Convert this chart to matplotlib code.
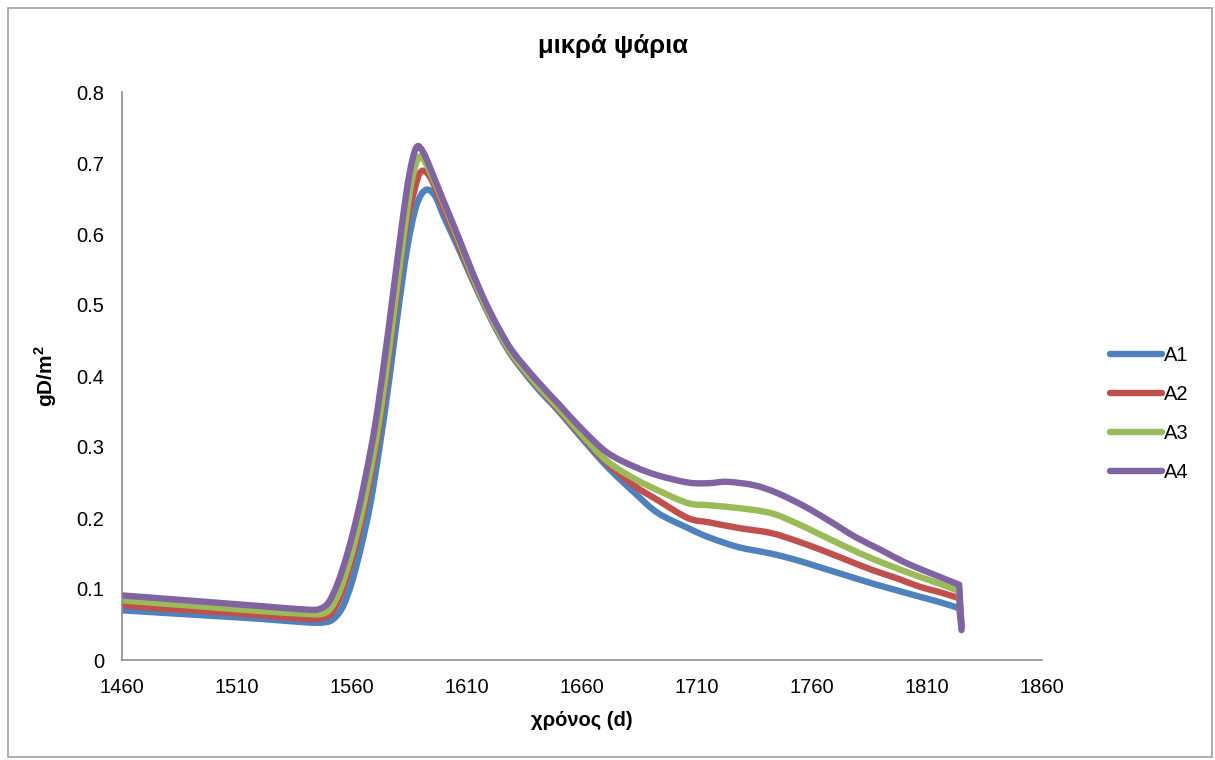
import matplotlib
matplotlib.use("Agg")
import numpy as np
import matplotlib.pyplot as plt
from matplotlib.patches import Rectangle, PathPatch
from matplotlib.path import Path
from matplotlib.lines import Line2D

# days / values (gD/m2)
days_a1 = [1460, 1480, 1500, 1520, 1540, 1548, 1552, 1556, 1560, 1564, 1568, 1572,
           1576, 1580, 1584, 1588, 1592, 1596, 1600, 1606, 1612, 1618, 1624, 1630,
           1640, 1650, 1660, 1671, 1683, 1693, 1706, 1715, 1728, 1742, 1753, 1764,
           1775, 1786, 1797, 1807, 1815, 1824, 1825]
a1 = [0.070, 0.066, 0.062, 0.058, 0.053, 0.053, 0.058, 0.075, 0.110, 0.160, 0.220, 0.300,
      0.390, 0.490, 0.580, 0.640, 0.662, 0.654, 0.624, 0.582, 0.538, 0.496, 0.458, 0.426,
      0.385, 0.350, 0.312, 0.272, 0.235, 0.207, 0.186, 0.173, 0.159, 0.150, 0.141, 0.130,
      0.119, 0.108, 0.098, 0.089, 0.082, 0.073, 0.045]

days_a2 = [1460, 1480, 1500, 1520, 1540, 1547, 1551, 1555, 1559, 1563, 1567, 1571,
           1575, 1579, 1583, 1587, 1590, 1594, 1599, 1606, 1612, 1618, 1624, 1630,
           1640, 1650, 1660, 1671, 1683, 1693, 1706, 1715, 1728, 1742, 1753, 1764,
           1775, 1786, 1797, 1807, 1815, 1824, 1825]
a2 = [0.077, 0.072, 0.068, 0.063, 0.058, 0.059, 0.066, 0.090, 0.130, 0.180, 0.240, 0.310,
      0.400, 0.500, 0.600, 0.660, 0.688, 0.680, 0.642, 0.588, 0.541, 0.498, 0.460, 0.428,
      0.388, 0.352, 0.315, 0.277, 0.245, 0.225, 0.200, 0.194, 0.186, 0.179, 0.168, 0.155,
      0.141, 0.127, 0.115, 0.103, 0.096, 0.087, 0.048]

days_a3 = [1460, 1480, 1500, 1520, 1540, 1547, 1551, 1555, 1559, 1563, 1567, 1571,
           1575, 1579, 1583, 1586, 1589, 1592, 1597, 1606, 1612, 1618, 1624, 1630,
           1640, 1650, 1660, 1671, 1683, 1693, 1706, 1715, 1728, 1742, 1753, 1764,
           1775, 1786, 1797, 1807, 1815, 1824, 1825]
a3 = [0.084, 0.079, 0.074, 0.069, 0.065, 0.065, 0.074, 0.100, 0.140, 0.190, 0.250, 0.320,
      0.410, 0.510, 0.610, 0.675, 0.708, 0.700, 0.665, 0.594, 0.544, 0.499, 0.461, 0.429,
      0.389, 0.354, 0.317, 0.280, 0.255, 0.239, 0.221, 0.218, 0.214, 0.207, 0.193, 0.176,
      0.159, 0.143, 0.129, 0.117, 0.108, 0.097, 0.052]

days_a4 = [1460, 1480, 1500, 1520, 1540, 1546, 1550, 1554, 1558, 1562, 1566, 1570,
           1574, 1578, 1582, 1585, 1588, 1591, 1595, 1600, 1606, 1612, 1618, 1624,
           1630, 1640, 1650, 1660, 1671, 1683, 1693, 1706, 1715, 1723, 1735, 1745,
           1757, 1768, 1779, 1790, 1800, 1811, 1824, 1825]
a4 = [0.091, 0.086, 0.081, 0.076, 0.071, 0.072, 0.082, 0.110, 0.150, 0.200, 0.260, 0.330,
      0.420, 0.520, 0.620, 0.685, 0.722, 0.715, 0.685, 0.645, 0.598, 0.549, 0.504, 0.466,
      0.434, 0.395, 0.360, 0.325, 0.292, 0.272, 0.260, 0.250, 0.249, 0.251, 0.246, 0.235,
      0.216, 0.195, 0.173, 0.155, 0.138, 0.123, 0.106, 0.042]

series = [("A1", days_a1, a1, "#4F81BD"),
          ("A2", days_a2, a2, "#C0504D"),
          ("A3", days_a3, a3, "#9BBB59"),
          ("A4", days_a4, a4, "#8064A2")]

x_ticks = list(range(1460, 1861, 50))
y_ticks = [0, 0.1, 0.2, 0.3, 0.4, 0.5, 0.6, 0.7, 0.8]
y_tick_labels = ["0", "0.1", "0.2", "0.3", "0.4", "0.5", "0.6", "0.7", "0.8"]


def smooth_path(x, y):
    # Excel-style "smoothed line": cubic bezier through the points,
    # last step (the end drop) kept straight
    pts = np.column_stack([x, y]).astype(float)
    body = pts[:-1]
    n = len(body)
    verts = [body[0]]
    codes = [Path.MOVETO]
    for i in range(n - 1):
        p0 = body[i - 1] if i > 0 else body[i]
        p1 = body[i]
        p2 = body[i + 1]
        p3 = body[i + 2] if i + 2 < n else body[i + 1]
        verts += [p1 + (p2 - p0) / 6, p2 - (p3 - p1) / 6, p2]
        codes += [Path.CURVE4] * 3
    verts.append(pts[-1])
    codes.append(Path.LINETO)
    return Path(verts, codes)


plt.rcParams["font.family"] = ["Liberation Sans", "DejaVu Sans"]

fig = plt.figure(figsize=(12.15, 7.6), dpi=100)
ax = fig.add_axes([122 / 1215, 1 - 660 / 760, 920 / 1215, 568 / 760])

handles = []
for name, d, v, c in series:
    ax.add_patch(PathPatch(smooth_path(d, v), fill=False, edgecolor=c, lw=4.6,
                           capstyle="round", joinstyle="round"))
    handles.append(Line2D([], [], color=c, lw=4.6, solid_capstyle="round", label=name))

ax.set_xlim(1460, 1860)
ax.set_ylim(0, 0.8)
ax.set_xticks(x_ticks)
ax.set_yticks(y_ticks)
ax.set_yticklabels(y_tick_labels)
ax.tick_params(length=0, labelsize=14.5)
ax.tick_params(axis="y", pad=13)
ax.tick_params(axis="x", pad=13)

for s in ["top", "right"]:
    ax.spines[s].set_visible(False)
for s in ["left", "bottom"]:
    ax.spines[s].set_color("#8c8c8c")
    ax.spines[s].set_linewidth(1.2)

ax.set_xlabel("χρόνος (d)", fontsize=14.5, fontweight="bold", labelpad=10)
ax.set_ylabel("gD/m$^\\mathregular{2}$", fontsize=15, fontweight="bold", labelpad=12)
fig.text(613 / 1215, 1 - 46 / 760, "μικρά ψάρια", ha="center", va="center",
         fontsize=18.5, fontweight="bold")

fig.legend(handles=handles, loc="center left",
           bbox_to_anchor=(1100 / 1215, 1 - 414 / 760),
           frameon=False, fontsize=14.5, handlelength=2.6, handletextpad=0.1,
           labelspacing=1.0, borderpad=0)

# chart border
fig.patches.append(Rectangle((8 / 1215, 3 / 760), 1204 / 1215, 749 / 760,
                             transform=fig.transFigure, fill=False,
                             edgecolor="#a0a0a0", lw=1.2))

fig.savefig("out.png", dpi=100)
